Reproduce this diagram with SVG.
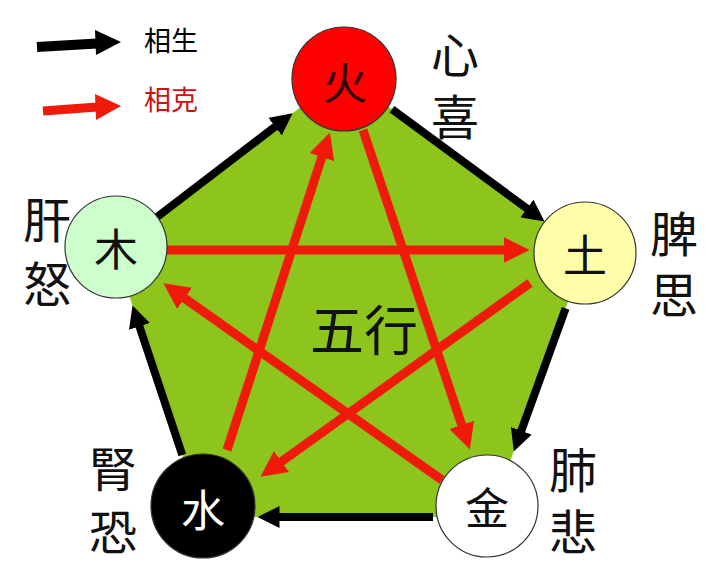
<svg xmlns="http://www.w3.org/2000/svg" width="715" height="571" viewBox="0 0 715 571">
<style>
text{font-family:"Noto Sans CJK SC","Noto Sans CJK TC",sans-serif;text-anchor:middle}
.side{font-size:48px;fill:#111;writing-mode:vertical-rl;text-anchor:start}
.lbl{font-size:44px;fill:#111}
.blk{stroke:#000;stroke-width:8;fill:none;marker-end:url(#hb)}
.red{stroke:#f01a0a;stroke-width:9;fill:none;marker-end:url(#hr)}
.node{stroke:#333;stroke-width:1.2}
</style>
<defs>
<marker id="hb" markerUnits="userSpaceOnUse" viewBox="0 0 22 22" markerWidth="22" markerHeight="22" refX="0.5" refY="11" orient="auto">
<path d="M0,0 L22,11 L0,22 z" fill="#000"/>
</marker>
<marker id="hr" markerUnits="userSpaceOnUse" viewBox="0 0 26 26" markerWidth="26" markerHeight="26" refX="0.5" refY="13" orient="auto">
<path d="M0,0 L26,13 L0,26 z" fill="#f01a0a"/>
</marker>
</defs>
<rect width="715" height="571" fill="#fff"/>
<g id="legend">
<line x1="37" y1="47" x2="97" y2="43.5" stroke="#000" stroke-width="10"/>
<polygon points="95,30 121,42 96,55" fill="#000"/>
<text x="171" y="51" style="font-size:27px;fill:#000">相生</text>
<line x1="43" y1="111" x2="97" y2="107" stroke="#f01a0a" stroke-width="9"/>
<polygon points="95,94 121,106 96,120" fill="#f01a0a"/>
<text x="171" y="110" style="font-size:27px;fill:#cc1111">相克</text>
</g>
<g id="pentagon">
<polygon points="344,74 586,252 490,517 203,517 114,250" fill="#8dc51d"/>
<text x="364" y="351" style="font-size:54px;fill:#111">五行</text>
</g>
<g id="connectors">
<line class="blk" x1="155.3" y1="218.4" x2="275.5" y2="126.4"/>
<line class="blk" x1="392" y1="109.3" x2="527.3" y2="208.8"/>
<line class="blk" x1="565.6" y1="308.4" x2="521.1" y2="431.3"/>
<line class="blk" x1="433" y1="517" x2="279" y2="517"/>
<line class="blk" x1="182.3" y1="455" x2="139.3" y2="325.9"/>
<line class="red" x1="167" y1="250" x2="504" y2="250"/>
<line class="red" x1="530" y1="283" x2="281.1" y2="461.8"/>
<line class="red" x1="227" y1="450" x2="322" y2="156.7"/>
<line class="red" x1="363" y1="130" x2="461.8" y2="425.3"/>
<line class="red" x1="442" y1="480" x2="184.2" y2="298"/>
</g>
<g id="fire">
<circle class="node" cx="344" cy="79" r="52" fill="#ff0000"/>
<text class="lbl" x="345" y="100" style="fill:#2a0000">火</text>
<text class="side" x="455" y="31" letter-spacing="14">心喜</text>
</g>
<g id="earth">
<circle class="node" cx="585" cy="253" r="51" fill="#ffffaa"/>
<text class="lbl" x="585" y="272">土</text>
<text class="side" x="674" y="210" letter-spacing="13">脾思</text>
</g>
<g id="wood">
<circle class="node" cx="116" cy="247" r="51" fill="#ccffcc"/>
<text class="lbl" x="116" y="266">木</text>
<text class="side" x="47" y="196" letter-spacing="16">肝怒</text>
</g>
<g id="water">
<circle class="node" cx="203" cy="506" r="52" fill="#000"/>
<text class="lbl" x="203" y="527" style="fill:#fff">水</text>
<text class="side" x="113" y="445" letter-spacing="15">腎恐</text>
</g>
<g id="metal">
<circle class="node" cx="487" cy="506" r="51" fill="#fff"/>
<text class="lbl" x="487" y="525">金</text>
<text class="side" x="573" y="446" letter-spacing="14">肺悲</text>
</g>
</svg>
